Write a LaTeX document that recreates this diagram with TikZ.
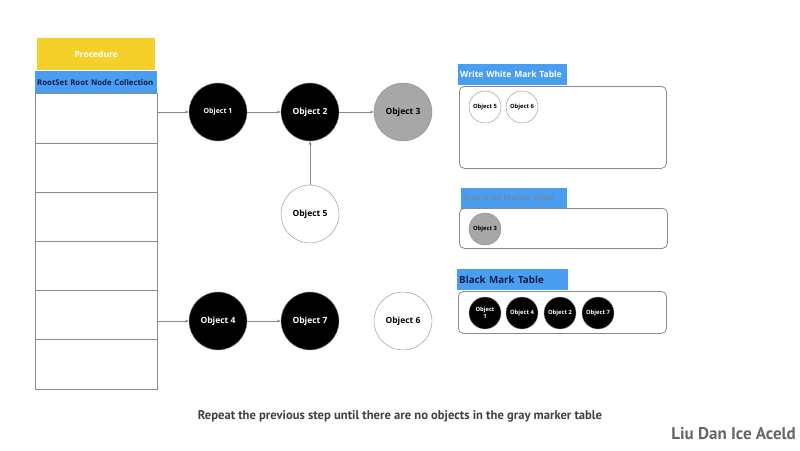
\documentclass[tikz,border=0pt]{standalone}
\usepackage{fontspec}
\setmainfont{Open Sans}
\newfontfamily\myriad{PT Sans}
\usepackage{tikz}
\usetikzlibrary{positioning,arrows.meta}
\definecolor{proc}{HTML}{F5D02A}
\definecolor{head}{HTML}{4A9EF2}
\definecolor{navy}{HTML}{0D1A4A}
\definecolor{grayobj}{HTML}{A6A8A7}
\definecolor{edge}{HTML}{8A8A8A}

\tikzset{
  obj/.style={circle,draw=edge,minimum size=58pt,inner sep=0pt,font=\bfseries\fontsize{8.5}{9}\selectfont},
  black obj/.style={obj,fill=black,text=white},
  white obj/.style={obj,fill=white,text=black},
  gray obj/.style={obj,fill=grayobj,text=black},
  mini/.style={circle,draw=edge,minimum size=32pt,inner sep=0pt,align=center,font=\bfseries\fontsize{5.8}{6.5}\selectfont},
  tabhead/.style={fill=head,minimum height=21pt,inner xsep=2pt,inner ysep=0pt,text width=#1,align=left,anchor=north west,font=\bfseries\fontsize{8.5}{9}\selectfont},
  markbox/.style={draw=edge,rounded corners=5pt,line width=0.8pt,anchor=north west,inner sep=0pt},
  ptr/.style={draw=edge,line width=0.6pt,-{Stealth[length=4pt,width=3pt]}}
}

\begin{document}
\begin{tikzpicture}[x=1pt,y=-1pt]
  \useasboundingbox (0,0) rectangle (800,450);
  \path
  % root set
  (37,38) node(proc)[fill=proc,minimum width=118pt,minimum height=32pt,anchor=north west,text=white,font=\bfseries\fontsize{8.5}{9}\selectfont] {Procedure}
  (35,71) node(root)[tabhead=118pt,minimum height=22pt,text=navy,font=\bfseries\fontsize{7.8}{8}\selectfont] {RootSet Root Node Collection}
  (35,93) node(tab)[draw=edge,minimum width=122pt,minimum height=296pt,anchor=north west,line width=0.6pt] {}
  % objects
  (218,112) node(o1)[black obj,font=\bfseries\fontsize{7}{8}\selectfont] {Object 1}
  (310,112) node(o2)[black obj] {Object 2}
  (403,112) node(o3)[gray obj] {Object 3}
  (310,214) node(o5)[white obj] {Object 5}
  (218,321) node(o4)[black obj] {Object 4}
  (310,321) node(o7)[black obj] {Object 7}
  (403,321) node(o6)[white obj] {Object 6}
  % mark tables
  (458,64) node(wh)[tabhead=105pt,text=white] {Write White Mark Table}
  (459,86) node(wbox)[markbox,minimum width=207pt,minimum height=82pt] {}
  (485,107) node(w5)[mini] {Object 5}
  (522,107) node(w6)[mini] {Object 6}
  (461,188) node(gh)[tabhead=102pt,text=head!35!gray,font=\bfseries\fontsize{7.6}{8}\selectfont] {Gray Gray Marker Table}
  (459,208) node(gbox)[markbox,minimum width=208pt,minimum height=40pt] {}
  (485,229) node(g3)[mini,fill=grayobj] {Object 3}
  (457,269) node(bh)[tabhead=107pt,text=navy,font=\bfseries\fontsize{9.8}{10}\selectfont] {Black Mark Table}
  (458,291) node(bbox)[markbox,minimum width=208pt,minimum height=42pt] {}
  (485,313) node(b1)[mini,fill=black,text=white] {Object\\1}
  (522,313) node(b4)[mini,fill=black,text=white] {Object 4}
  (560,313) node(b2)[mini,fill=black,text=white] {Object 2}
  (598,313) node(b7)[mini,fill=black,text=white] {Object 7}
  % notes
  (400,416) node(note)[text=black!75,font=\myriad\bfseries\fontsize{12.6}{13}\selectfont] {Repeat the previous step until there are no objects in the gray marker table}
  (796,434) node(sign)[anchor=east,inner sep=0pt,text=black!60,font=\myriad\bfseries\fontsize{17}{18}\selectfont] {Liu Dan Ice Aceld}
  ;

  \foreach \y in {143,192,241,290,339}
    \draw[edge,line width=0.6pt] (35,\y) -- (157,\y);

  \draw[ptr] (tab.east |- o1) -- (o1);
  \draw[ptr] (o1) -- (o2);
  \draw[ptr] (o2) -- (o3);
  \draw[ptr] (o5) -- (o2);
  \draw[ptr] (tab.east |- o4) -- (o4);
  \draw[ptr] (o4) -- (o7);
\end{tikzpicture}
\end{document}
